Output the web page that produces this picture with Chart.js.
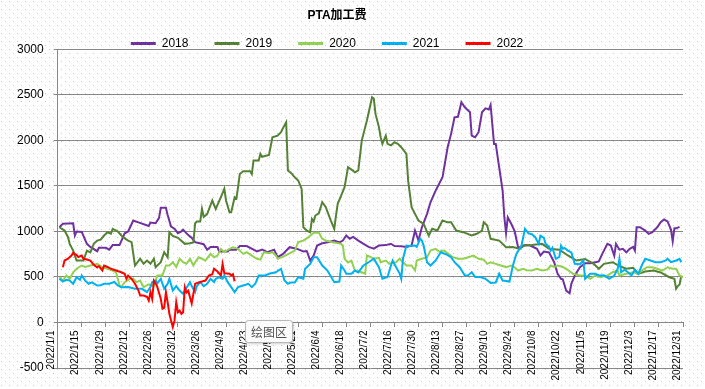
<!DOCTYPE html>
<html>
<head>
<meta charset="utf-8">
<script src="https://cdn.jsdelivr.net/npm/chart.js@4.4.1/dist/chart.umd.min.js"></script>
<style>
  body { margin: 0; background: #fff; }
</style>
</head>
<body>
<canvas id="chart" width="705" height="389"></canvas>
<script>
"use strict"

// x ticks every 14 days, day 0 = 2022/1/1
const tickLabels = ["2022/1/1", "2022/1/15", "2022/1/29", "2022/2/12", "2022/2/26", "2022/3/12", "2022/3/26",
  "2022/4/9", "2022/4/23", "2022/5/7", "2022/5/21", "2022/6/4", "2022/6/18", "2022/7/2", "2022/7/16",
  "2022/7/30", "2022/8/13", "2022/8/27", "2022/9/10", "2022/9/24", "2022/10/8", "2022/10/22", "2022/11/5",
  "2022/11/19", "2022/12/3", "2022/12/17", "2022/12/31"]

const seriesNames = ["2018", "2019", "2020", "2021", "2022"]
const seriesColors = ["#7030a0", "#548235", "#92d050", "#00b0f0", "#ff0000"]

// [day of year, fee]
const fee2018 = [[1,1046],[3,1085],[9,1090],[10,955],[11,1000],[14,995],[17,864],[19,830],[23,783],[24,820],[28,820],[30,800],[32,850],[36,850],[39,980],[41,1000],[44,1120],[47,1100],[53,1060],[54,1098],[57,1090],[59,1150],[60,1260],[63,1260],[64,1180],[66,1054],[68,1030],[70,981],[72,1000],[73,1020],[76,960],[78,930],[80,882],[85,860],[87,798],[89,830],[93,830],[94,780],[99,780],[100,800],[104,800],[106,840],[110,840],[116,780],[119,802],[122,772],[126,800],[128,717],[131,750],[135,827],[139,811],[143,780],[145,785],[147,681],[149,735],[151,845],[154,870],[158,885],[161,900],[164,880],[166,900],[168,955],[170,920],[172,940],[175,900],[178,864],[181,830],[184,811],[187,845],[191,850],[194,865],[196,840],[200,838],[203,830],[206,845],[208,1010],[210,900],[212,1046],[215,1193],[217,1321],[220,1449],[224,1595],[227,1925],[229,2072],[231,2254],[233,2260],[235,2419],[237,2364],[240,2309],[241,2053],[243,2035],[245,2090],[247,2309],[249,2353],[251,2340],[252,2390],[254,1962],[255,1962],[257,1705],[259,1449],[260,1156],[261,981],[262,1156],[264,1085],[266,1003],[268,827],[270,827],[272,850],[275,845],[279,809],[281,736],[283,780],[286,770],[289,662],[291,535],[293,480],[294,475],[296,351],[298,322],[299,425],[301,516],[304,607],[307,651],[310,650],[313,662],[315,670],[317,754],[320,864],[322,845],[324,733],[325,864],[327,800],[329,809],[331,770],[333,809],[335,830],[336,790],[337,1046],[339,1046],[342,1010],[344,974],[346,990],[349,1046],[351,1101],[353,1131],[355,1110],[357,1021],[358,893],[359,1034],[360,1034],[362,1050]]

const fee2019 = [[1,1046],[4,1010],[6,937],[7,864],[9,790],[11,680],[15,680],[17,790],[19,770],[21,864],[23,900],[25,910],[27,955],[29,991],[31,975],[32,1029],[35,1000],[38,937],[41,900],[43,882],[45,626],[48,700],[50,645],[52,680],[54,645],[56,700],[57,607],[60,663],[62,772],[64,717],[65,991],[67,950],[70,930],[74,864],[77,870],[79,880],[80,1090],[81,1110],[83,1110],[84,1248],[85,1160],[87,1190],[90,1340],[92,1248],[95,1376],[97,1468],[98,1340],[100,1211],[101,1211],[103,1376],[104,1360],[105,1486],[106,1632],[108,1661],[112,1661],[113,1630],[114,1779],[117,1779],[118,1852],[119,1820],[123,1840],[125,2035],[128,2053],[130,2090],[131,2130],[133,2200],[134,1669],[136,1640],[138,1595],[140,1560],[142,1468],[143,1046],[145,1010],[147,992],[148,1138],[149,1110],[150,1175],[152,1200],[154,1321],[156,1270],[159,1120],[161,1029],[162,1175],[163,1303],[165,1394],[167,1486],[169,1705],[171,1680],[173,1650],[175,1670],[177,1998],[180,2218],[183,2474],[184,2460],[185,2291],[187,2145],[188,2035],[189,1962],[191,2053],[192,1962],[194,1945],[196,1980],[198,1962],[200,1925],[203,1852],[204,1559],[206,1266],[208,1193],[210,1120],[213,1083],[216,955],[218,1029],[221,1010],[224,1120],[227,1100],[229,1101],[232,1010],[236,992],[241,955],[244,975],[247,1010],[248,1101],[250,1065],[252,919],[257,900],[261,827],[265,830],[269,809],[271,845],[276,850],[282,864],[286,809],[292,800],[297,736],[302,681],[307,698],[312,644],[315,590],[318,644],[323,662],[327,620],[331,590],[335,600],[338,535],[342,560],[347,572],[351,550],[356,497],[359,480],[360,370],[361,400],[362,417],[363,516]]

const fee2020 = [[1,497],[3,460],[5,516],[7,480],[9,552],[11,590],[14,626],[16,610],[19,626],[23,644],[26,607],[29,590],[32,570],[34,550],[36,406],[37,390],[39,443],[42,480],[44,480],[46,443],[48,460],[50,388],[53,420],[56,400],[58,516],[61,516],[63,626],[65,626],[67,662],[69,610],[71,700],[73,662],[75,645],[77,700],[79,626],[80,662],[82,717],[84,700],[86,680],[89,754],[91,717],[93,735],[95,809],[97,772],[100,810],[102,827],[105,809],[108,754],[110,772],[113,735],[116,700],[118,690],[120,772],[123,760],[125,772],[127,735],[128,700],[131,720],[135,760],[138,790],[140,882],[143,900],[146,937],[149,985],[152,985],[154,920],[156,900],[160,882],[165,864],[166,845],[167,700],[169,660],[171,680],[173,571],[177,552],[179,535],[180,736],[182,720],[184,700],[187,710],[188,662],[191,680],[193,644],[195,660],[197,662],[199,700],[201,662],[203,626],[206,626],[208,571],[209,681],[212,700],[215,717],[217,790],[220,809],[222,780],[225,790],[227,760],[230,717],[233,700],[236,700],[239,717],[242,735],[245,700],[248,690],[250,644],[252,660],[255,644],[258,626],[261,607],[264,626],[266,607],[268,571],[271,590],[273,575],[276,571],[279,590],[282,571],[285,580],[287,626],[289,610],[291,626],[294,610],[296,590],[300,535],[304,516],[307,516],[310,480],[313,516],[316,497],[320,516],[323,552],[326,570],[327,516],[331,535],[335,552],[338,535],[340,571],[343,607],[346,607],[349,590],[352,570],[355,607],[358,590],[360,590],[362,516],[364,497]]

const fee2021 = [[1,480],[3,450],[5,470],[7,460],[9,425],[11,497],[13,470],[14,516],[16,460],[18,425],[20,440],[23,406],[25,410],[27,425],[30,425],[33,445],[35,406],[37,388],[41,390],[45,370],[49,370],[52,333],[54,390],[55,443],[57,461],[58,430],[60,480],[62,370],[64,425],[65,480],[67,351],[69,400],[71,351],[73,315],[74,351],[77,443],[78,400],[80,333],[81,400],[83,443],[85,400],[87,425],[89,480],[91,443],[92,480],[94,497],[96,480],[97,516],[99,443],[101,388],[103,333],[105,388],[108,406],[111,425],[113,388],[115,425],[117,516],[121,516],[123,535],[127,552],[130,590],[132,461],[134,425],[136,440],[138,440],[140,497],[143,480],[144,590],[147,644],[149,717],[151,717],[154,626],[157,571],[161,443],[164,450],[165,626],[167,571],[168,535],[171,535],[173,571],[175,550],[178,626],[181,662],[184,700],[187,607],[189,480],[192,500],[194,626],[195,681],[197,607],[199,540],[200,480],[201,700],[203,845],[205,840],[208,845],[209,830],[211,919],[212,900],[213,845],[215,662],[217,626],[220,681],[223,772],[226,750],[229,717],[231,662],[234,607],[237,516],[239,520],[241,552],[243,500],[246,500],[249,480],[252,435],[255,440],[257,535],[259,461],[263,450],[265,626],[267,754],[270,845],[272,1029],[274,980],[276,970],[278,937],[280,864],[281,955],[283,930],[284,864],[286,830],[287,790],[288,820],[290,700],[292,720],[293,845],[294,810],[295,820],[297,790],[299,770],[301,644],[304,640],[306,681],[307,480],[310,535],[313,535],[315,516],[318,520],[321,480],[324,516],[326,590],[327,700],[328,552],[330,580],[332,552],[334,516],[336,580],[338,535],[340,626],[342,700],[345,681],[348,662],[351,662],[354,681],[355,700],[357,662],[360,681],[362,700],[363,662]]

const fee2022 = [[3,607],[4,681],[6,700],[8,736],[9,765],[11,740],[12,720],[14,735],[15,700],[17,692],[19,680],[21,634],[23,605],[24,620],[26,571],[27,626],[29,610],[31,590],[34,571],[37,552],[39,535],[40,480],[41,516],[43,480],[45,425],[47,351],[48,296],[50,296],[52,282],[53,241],[54,333],[55,260],[56,461],[57,430],[58,388],[60,260],[61,150],[62,160],[63,333],[64,223],[65,95],[66,22],[67,-50],[68,20],[69,223],[70,113],[71,130],[72,95],[73,113],[74,388],[75,330],[76,350],[77,278],[78,210],[80,425],[82,440],[84,450],[86,461],[88,516],[90,530],[91,590],[93,560],[95,516],[96,644],[97,540],[100,535],[101,516],[102,530],[103,454]]

const allFees = [fee2018, fee2019, fee2020, fee2021, fee2022]

const fontFamily = "'Liberation Sans', 'Noto Sans CJK SC', sans-serif"

// excel style dotted fill behind everything
const dotBackground = {
  id: "dotBackground",
  beforeDraw(chart) {
    const tile = document.createElement("canvas")
    tile.width = 8
    tile.height = 8
    const t = tile.getContext("2d")
    t.fillStyle = "#ffffff"
    t.fillRect(0, 0, 8, 8)
    t.fillStyle = "#c6c6c6"
    t.fillRect(1, 1, 1, 1)
    t.fillRect(5, 5, 1, 1)
    const ctx = chart.ctx
    ctx.save()
    ctx.fillStyle = ctx.createPattern(tile, "repeat")
    ctx.fillRect(0, 0, chart.width, chart.height)
    ctx.restore()
  }
}

// title and legend sit a bit left of centre in the original
// (legend keeps its bottom so its clip box still holds the row)
const headerNudge = {
  id: "headerNudge",
  afterLayout(chart) {
    chart.titleBlock.left -= 8
    chart.titleBlock.right -= 8
    chart.legend.left -= 18
    chart.legend.right -= 18
    chart.legend.top -= 11
    chart.legend.bottom += 4
  }
}

// the little hover label left in the screenshot
const hoverTag = {
  id: "hoverTag",
  afterDraw(chart) {
    const ctx = chart.ctx
    ctx.save()
    ctx.shadowColor = "rgba(0,0,0,0.25)"
    ctx.shadowBlur = 3
    ctx.shadowOffsetX = 1
    ctx.shadowOffsetY = 1
    ctx.fillStyle = "#fbfbfb"
    ctx.beginPath()
    ctx.roundRect(245.5, 320.5, 47, 22, 3)
    ctx.fill()
    ctx.shadowColor = "transparent"
    ctx.strokeStyle = "#b8b8b8"
    ctx.lineWidth = 1
    ctx.stroke()
    ctx.fillStyle = "#505050"
    ctx.font = "12px 'Noto Sans CJK SC', sans-serif"
    ctx.textAlign = "center"
    ctx.textBaseline = "middle"
    ctx.fillText("绘图区", 269, 332)
    ctx.restore()
  }
}

const datasets = seriesNames.map((name, i) => ({
  label: name,
  data: allFees[i].map(p => ({ x: p[0], y: p[1] })),
  borderColor: seriesColors[i],
  backgroundColor: seriesColors[i],
  borderWidth: 2,
  pointRadius: 0,
  tension: 0,
  order: seriesNames.length - i
}))

const config = {
  type: "line",
  data: { datasets: datasets },
  options: {
    responsive: false,
    animation: false,
    devicePixelRatio: 1,
    layout: { padding: { left: 7, right: 22, top: 0, bottom: 21 } },
    plugins: {
      title: {
        display: true,
        text: "PTA加工费",
        color: "#000",
        font: { family: fontFamily, size: 12, weight: "bold" },
        padding: { top: 8, bottom: 0 }
      },
      legend: {
        position: "top",
        maxHeight: 27,
        labels: {
          boxWidth: 25,
          boxHeight: 3,
          padding: 26,
          color: "#000",
          font: { family: fontFamily, size: 12 },
          sort: (a, b) => a.datasetIndex - b.datasetIndex,
          generateLabels: chart => Chart.defaults.plugins.legend.labels.generateLabels(chart)
            .map(item => Object.assign(item, { lineWidth: 0 }))
        }
      },
      tooltip: { enabled: false }
    },
    scales: {
      x: {
        type: "linear",
        min: 0,
        max: 364,
        position: { y: 0 },
        grid: { drawOnChartArea: false, tickLength: 4, color: "#868686" },
        border: { color: "#868686" },
        ticks: {
          stepSize: 14,
          autoSkip: false,
          minRotation: 90,
          maxRotation: 90,
          padding: 4,
          labelOffset: -6,
          color: "#000",
          font: { family: fontFamily, size: 10 },
          callback: v => tickLabels[Math.round(v / 14)]
        }
      },
      y: {
        min: -500,
        max: 3000,
        grid: { color: "#868686", tickLength: 4 },
        border: { color: "#868686" },
        ticks: {
          stepSize: 500,
          padding: 10,
          color: "#000",
          font: { family: fontFamily, size: 12 },
          callback: v => String(v)
        }
      }
    }
  },
  plugins: [dotBackground, headerNudge, hoverTag]
}

const feeChart = new Chart(document.getElementById("chart"), config)
</script>
</body>
</html>
